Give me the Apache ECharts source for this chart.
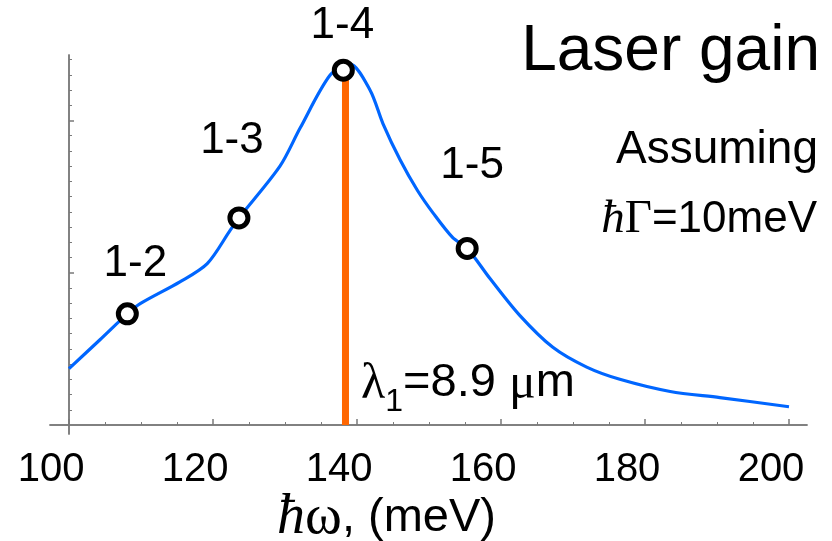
<!DOCTYPE html>
<html>
<head>
<meta charset="utf-8">
<title>Laser gain</title>
<script src="https://cdn.jsdelivr.net/npm/echarts@6/dist/echarts.min.js"></script>
<style>
  html, body { margin: 0; padding: 0; background: #fff; }
  #chart { width: 832px; height: 541px; }
</style>
</head>
<body>
<div id="chart"></div>
<script>
// gain curve (x: photon energy in meV, y: arbitrary units)
var energy = [100, 104.3, 108.1, 110, 115.4, 119.2, 122.4, 123.6, 129.3, 132.1, 136.3, 139,
  141.8, 143.6, 146, 148.4, 150.6, 153.3, 155.3, 158.5, 162.6, 167.2, 171.9, 176.5, 183.5, 190.4, 200];
var gain = [0.37, 0.56, 0.73, 0.80, 0.94, 1.06, 1.28, 1.36, 1.70, 1.95, 2.30, 2.37,
  2.20, 1.98, 1.74, 1.54, 1.39, 1.23, 1.16, 0.96, 0.72, 0.51, 0.38, 0.30, 0.22, 0.18, 0.12];

// transitions marked on the curve
var transNames = ['1-2', '1-3', '1-4', '1-5'];
var transEnergy = [108.1, 123.6, 138.1, 155.3];
var transGain = [0.73, 1.36, 2.33, 1.16];
// label position relative to its marker, px
var transLabelOffset = [[8, -50], [-7, -77], [-1, -44], [5, -83]];

// laser line (lambda1 = 8.9 um)
var laserEnergy = 138.4;
var laserGain = [0, 2.30];

// ticks
var xMajorTicks = [100, 120, 140, 160, 180, 200];
var xMinorTicks = [105, 110, 115, 125, 130, 135, 145, 150, 155, 165, 170, 175, 185, 190, 195];
var yMajorTicks = [1, 2];
var yMinorTicks = [0.1, 0.2, 0.3, 0.4, 0.5, 0.6, 0.7, 0.8, 0.9, 1.1, 1.2, 1.3, 1.4, 1.5, 1.6,
  1.7, 1.8, 1.9, 2.1, 2.2, 2.3, 2.4];

var sans = 'Liberation Sans, Arial, sans-serif';
var serif = 'Liberation Serif, Times New Roman, serif';
var axisGrey = '#7a7a7a';

var chart = echarts.init(document.getElementById('chart'));

var curve = energy.map(function (e, i) { return [e, gain[i]]; });
var marks = transNames.map(function (n, i) {
  return {
    name: n,
    value: [transEnergy[i], transGain[i]],
    label: { offset: transLabelOffset[i] }
  };
});

var xBase = {
  type: 'value',
  min: 97.36,
  max: 202.5,
  position: 'bottom',
  splitLine: { show: false },
  axisLine: { show: true, onZero: true, lineStyle: { color: axisGrey, width: 1.5 } }
};
var yBase = {
  type: 'value',
  min: -0.059,
  max: 2.43,
  position: 'left',
  offset: -19,
  splitLine: { show: false },
  axisLabel: { show: false },
  axisLine: { show: true, onZero: false, lineStyle: { color: axisGrey, width: 1.5 } }
};

var option = {
  backgroundColor: '#ffffff',
  animation: false,
  grid: { left: 50, right: 25, top: 55, bottom: 107, outerBoundsMode: 'none' },
  xAxis: [
    Object.assign({}, xBase, {
      axisTick: { inside: true, length: 6, customValues: xMajorTicks, lineStyle: { color: axisGrey, width: 1.5 } },
      axisLabel: {
        customValues: xMajorTicks,
        margin: 16,
        fontSize: 40,
        fontFamily: sans,
        color: '#000',
        padding: [0, 36, 0, 0]
      },
      name: '{h|ħ}{w|ω}{t|, (meV)}',
      nameLocation: 'middle',
      nameGap: 56,
      nameMoveOverlap: false,
      nameTextStyle: {
        padding: [0, 84, 0, 0],
        rich: {
          h: { fontFamily: serif, fontStyle: 'italic', fontSize: 56, color: '#000' },
          w: { fontFamily: serif, fontSize: 56, color: '#000' },
          t: { fontFamily: sans, fontSize: 47, color: '#000' }
        }
      }
    }),
    Object.assign({}, xBase, {
      axisTick: { inside: true, length: 3, customValues: xMinorTicks, lineStyle: { color: axisGrey } },
      axisLabel: { show: false }
    })
  ],
  yAxis: [
    Object.assign({}, yBase, {
      axisTick: { inside: true, length: 5, customValues: yMajorTicks, lineStyle: { color: axisGrey, width: 1.5 } }
    }),
    Object.assign({}, yBase, {
      axisTick: { inside: true, length: 3, customValues: yMinorTicks, lineStyle: { color: axisGrey } }
    })
  ],
  series: [
    {
      type: 'line',
      data: curve,
      smooth: 0.3,
      showSymbol: false,
      lineStyle: { color: '#0066ff', width: 3.2 },
      z: 2
    },
    {
      type: 'line',
      data: [[laserEnergy, laserGain[0]], [laserEnergy, laserGain[1]]],
      showSymbol: false,
      lineStyle: { color: '#ff6600', width: 7, cap: 'butt' },
      z: 3
    },
    {
      type: 'scatter',
      data: marks,
      symbol: 'circle',
      symbolSize: 18,
      itemStyle: { color: '#fff', borderColor: '#000', borderWidth: 5, opacity: 1 },
      label: {
        show: true,
        position: 'inside',
        formatter: '{b}',
        fontSize: 44,
        fontFamily: sans,
        color: '#000'
      },
      z: 4
    }
  ],
  graphic: [
    {
      type: 'text', right: 12, top: 20,
      style: { text: 'Laser gain', fontSize: 64, fontFamily: sans, fill: '#000' }
    },
    {
      type: 'text', right: 14, top: 127,
      style: { text: 'Assuming', fontSize: 46, fontFamily: sans, fill: '#000' }
    },
    {
      type: 'text', right: 15, top: 196,
      style: {
        text: '{h|ħ}{g|Γ}{t|=10meV}',
        rich: {
          h: { fontFamily: serif, fontStyle: 'italic', fontSize: 47, fill: '#000' },
          g: { fontFamily: serif, fontSize: 47, fill: '#000' },
          t: { fontFamily: sans, fontSize: 44, fill: '#000' }
        }
      }
    },
    {
      type: 'text', left: 361, top: 360,
      style: {
        text: '{l|λ}{s|1}{t|=8.9 }{m|μ}{t|m}',
        rich: {
          l: { fontFamily: serif, fontSize: 50, fill: '#000', verticalAlign: 'top', lineHeight: 48 },
          s: { fontFamily: sans, fontSize: 32, fill: '#000', verticalAlign: 'top', padding: [26, 0, 0, 0] },
          t: { fontFamily: sans, fontSize: 47, fill: '#000', verticalAlign: 'top', lineHeight: 48 },
          m: { fontFamily: serif, fontSize: 50, fill: '#000', verticalAlign: 'top', lineHeight: 48 }
        }
      }
    }
  ]
};

chart.setOption(option);
</script>
</body>
</html>
